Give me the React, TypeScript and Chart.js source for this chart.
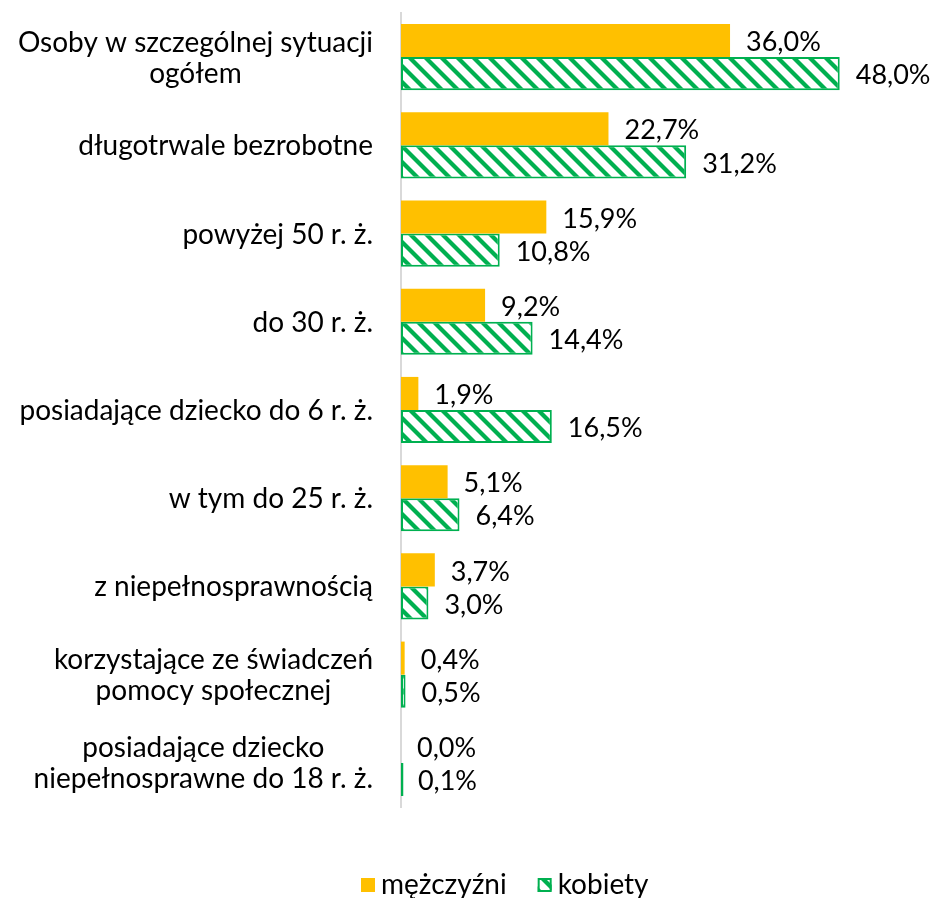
import React, { useEffect, useRef } from "react";
import { Chart, registerables } from "chart.js";

Chart.register(...registerables);

const categories: (string | string[])[] = [
  ["Osoby w szczególnej sytuacji", "ogółem"],
  "długotrwale bezrobotne",
  "powyżej 50 r. ż.",
  "do 30 r. ż.",
  "posiadające dziecko do 6 r. ż.",
  "w tym do 25 r. ż.",
  "z niepełnosprawnością",
  ["korzystające ze świadczeń", "pomocy społecznej"],
  ["posiadające dziecko", "niepełnosprawne do 18 r. ż."],
];
const men = [36.0, 22.7, 15.9, 9.2, 1.9, 5.1, 3.7, 0.4, 0.0];
const women = [48.0, 31.2, 10.8, 14.4, 16.5, 6.4, 3.0, 0.5, 0.1];
const seriesNames = ["mężczyźni", "kobiety"];

const ORANGE = "#FFC000";
const GREEN = "#00B050";
const FONT = "Lato";
const FS = 27;
const LFS = 28;

function makeHatch(): CanvasPattern {
  const s = 16;
  const w = 6;
  const c = document.createElement("canvas");
  c.width = s;
  c.height = s;
  const g = c.getContext("2d")!;
  g.fillStyle = "#ffffff";
  g.fillRect(0, 0, s, s);
  g.fillStyle = GREEN;
  for (const off of [-s, 0, s]) {
    g.beginPath();
    g.moveTo(off - w / 2, 0);
    g.lineTo(off + w / 2, 0);
    g.lineTo(off + s + w / 2, s);
    g.lineTo(off + s - w / 2, s);
    g.closePath();
    g.fill();
  }
  return g.createPattern(c, "repeat")!;
}

// Category labels: block right-aligned to the axis, lines centred in the block
const categoryLabels = {
  id: "categoryLabels",
  afterDraw(chart: any) {
    const ctx = chart.ctx;
    const scale = chart.scales.y;
    const right = chart.chartArea.left - 28;
    const lh = 31;
    ctx.save();
    ctx.font = `${LFS}px ${FONT}`;
    ctx.fillStyle = "#000";
    ctx.textAlign = "center";
    ctx.textBaseline = "middle";
    categories.forEach((lab, i) => {
      const lines = Array.isArray(lab) ? lab : [lab];
      const bw = Math.max(...lines.map((l) => ctx.measureText(l).width));
      const cx = right - bw / 2;
      const yc = scale.getPixelForTick(i);
      const y0 = yc - ((lines.length - 1) * lh) / 2;
      lines.forEach((l, k) => ctx.fillText(l, cx, y0 + k * lh + 1));
    });
    ctx.restore();
  },
};

const valueLabels = {
  id: "valueLabels",
  afterDatasetsDraw(chart: any) {
    const ctx = chart.ctx;
    ctx.save();
    ctx.font = `${FS}px ${FONT}`;
    ctx.fillStyle = "#000";
    ctx.textAlign = "left";
    ctx.textBaseline = "middle";
    chart.data.datasets.forEach((ds: any, di: number) => {
      const meta = chart.getDatasetMeta(di);
      meta.data.forEach((el: any, i: number) => {
        const v = ds.data[i] as number;
        const txt = v.toFixed(1).replace(".", ",") + "%";
        const base = chart.scales.x.getPixelForValue(v);
        ctx.fillText(txt, base + 16, el.y + 2);
      });
    });
    ctx.restore();
  },
};

const customLegend = {
  id: "customLegend",
  afterDraw(chart: any) {
    const ctx = chart.ctx;
    const ds = chart.data.datasets;
    ctx.save();
    ctx.font = `${LFS}px ${FONT}`;
    ctx.textBaseline = "middle";
    ctx.textAlign = "left";
    const yc = 885;
    let x = 361;
    const box = 14;
    ds.forEach((d: any) => {
      ctx.fillStyle = d.backgroundColor;
      ctx.fillRect(x, yc - box / 2, box, box);
      if (d.borderWidth) {
        ctx.strokeStyle = d.borderColor;
        ctx.lineWidth = 2;
        ctx.strokeRect(x + 1, yc - box / 2 + 1, box - 2, box - 2);
      }
      x += box + 6;
      ctx.fillStyle = "#000";
      ctx.fillText(d.label, x, yc);
      x += ctx.measureText(d.label).width + 31;
    });
    ctx.restore();
  },
};

export default function App() {
  const ref = useRef<HTMLCanvasElement>(null);
  useEffect(() => {
    let chart: Chart | null = null;
    let cancelled = false;
    const build = () => {
      if (cancelled || !ref.current) return;
      chart = new Chart(ref.current, {
        type: "bar",
        data: {
          labels: categories,
          datasets: [
            {
              label: seriesNames[0],
              data: men,
              backgroundColor: ORANGE,
              borderWidth: 0,
              categoryPercentage: 0.75,
              barPercentage: 1,
            },
            {
              label: seriesNames[1],
              data: women,
              backgroundColor: makeHatch(),
              borderColor: GREEN,
              borderWidth: 2,
              borderSkipped: false,
              minBarLength: 2.5,
              categoryPercentage: 0.75,
              barPercentage: 1,
            },
          ],
        },
        options: {
          indexAxis: "y",
          responsive: false,
          animation: false,
          layout: { padding: { top: 13, bottom: 91, left: 0, right: 80 } },
          plugins: {
            legend: { display: false },
            tooltip: { enabled: false },
          },
          scales: {
            x: { display: false, min: 0, max: 50 },
            y: {
              grid: { display: false, drawTicks: false },
              border: { display: true, color: "#d9d9d9", width: 2 },
              ticks: { display: false },
              afterFit(scale: any) {
                scale.width = 401;
                scale.paddingTop = 0;
                scale.paddingBottom = 0;
              },
            },
          },
        },
        plugins: [valueLabels, categoryLabels, customLegend],
      } as any);
    };
    const fonts = (document as any).fonts;
    if (fonts && fonts.load) {
      fonts.load(`${LFS}px ${FONT}`).then(build, build);
    } else build();
    return () => {
      cancelled = true;
      if (chart) chart.destroy();
    };
  }, []);
  return (
    <div style={{ position: "absolute", left: 0, top: 0, width: 938, height: 898, background: "#fff" }}>
      <canvas ref={ref} width={938} height={898} style={{ width: 938, height: 898, display: "block" }} />
    </div>
  );
}
